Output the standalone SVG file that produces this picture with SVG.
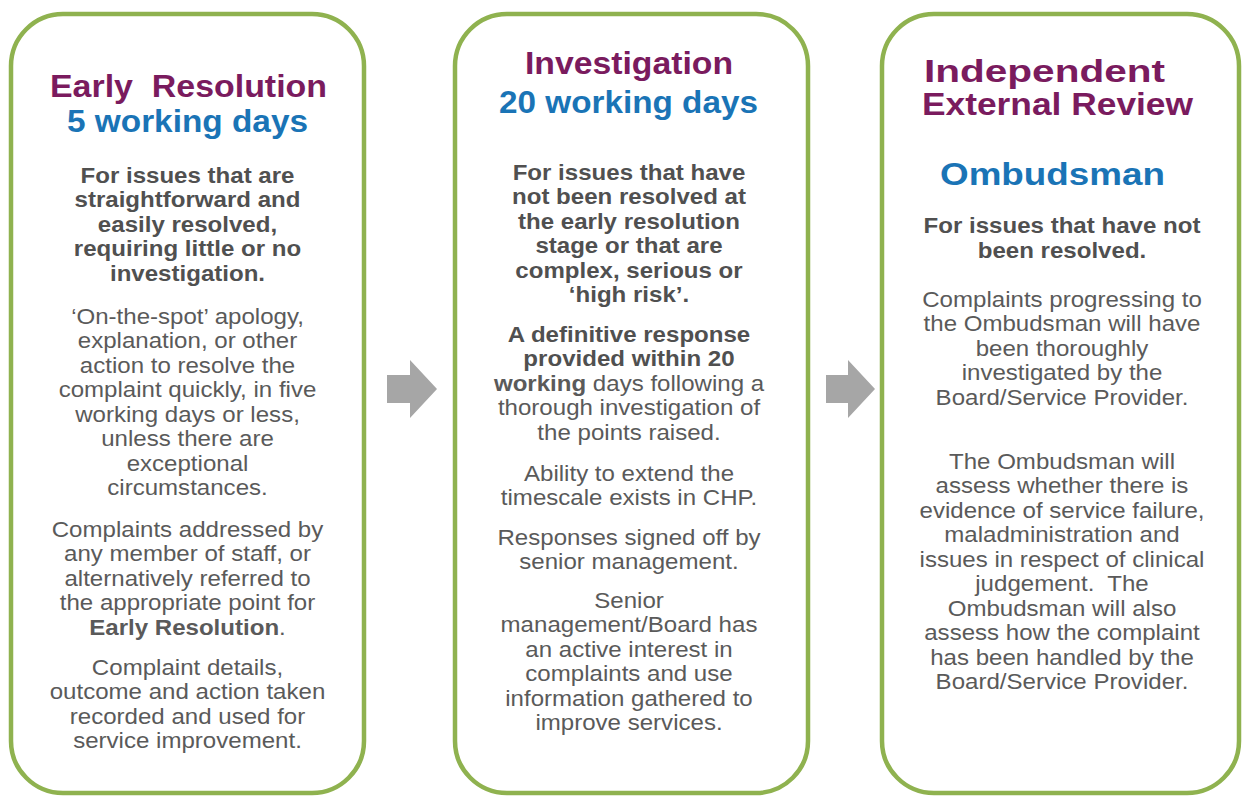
<svg xmlns="http://www.w3.org/2000/svg" width="1243" height="796" viewBox="0 0 1243 796">
<style>
.box{fill:#ffffff;stroke:#8fb24f;stroke-width:4.5}
.arrow{fill:#a6a6a6}
.t1{font-family:"Liberation Sans",Arial,sans-serif;font-weight:bold;font-size:31px;fill:#7a1b5e;text-anchor:middle}
.t2{font-family:"Liberation Sans",Arial,sans-serif;font-weight:bold;font-size:31px;fill:#1a74b6;text-anchor:middle}
.b{font-family:"Liberation Sans",Arial,sans-serif;font-weight:bold;font-size:21.5px;fill:#505050;text-anchor:middle}
.r{font-family:"Liberation Sans",Arial,sans-serif;font-size:21.5px;fill:#5a5a5a;text-anchor:middle}
.bb{font-weight:bold}
</style>
<rect width="1243" height="796" fill="#ffffff"/>
<g id="connectors">
<polygon class="arrow" points="387,375 410,375 410,360 437,389 410,418 410,403 387,403"/>
<polygon class="arrow" points="826,375 848,375 848,360 875,389 848,418 848,403 826,403"/>
</g>
<g id="early-resolution">
<rect class="box" x="11" y="14" width="353" height="779" rx="52" ry="52"/>
<text class="t1" x="188.5" y="97" textLength="277" lengthAdjust="spacingAndGlyphs">Early&#160; Resolution</text>
<text class="t2" x="187.5" y="132" textLength="241" lengthAdjust="spacingAndGlyphs">5 working days</text>
<g transform="translate(187.5 0) scale(1.12 1)">
<text class="b" x="0" y="183">For issues that are</text>
<text class="b" x="0" y="207.5">straightforward and</text>
<text class="b" x="0" y="232">easily resolved,</text>
<text class="b" x="0" y="256.5">requiring little or no</text>
<text class="b" x="0" y="281">investigation.</text>
<text class="r" x="0" y="324">‘On-the-spot’ apology,</text>
<text class="r" x="0" y="348.5">explanation, or other</text>
<text class="r" x="0" y="373">action to resolve the</text>
<text class="r" x="0" y="397.5">complaint quickly, in five</text>
<text class="r" x="0" y="422">working days or less,</text>
<text class="r" x="0" y="446.5">unless there are</text>
<text class="r" x="0" y="471">exceptional</text>
<text class="r" x="0" y="495.5">circumstances.</text>
<text class="r" x="0" y="537">Complaints addressed by</text>
<text class="r" x="0" y="561.5">any member of staff, or</text>
<text class="r" x="0" y="586">alternatively referred to</text>
<text class="r" x="0" y="610.5">the appropriate point for</text>
<text class="r" x="0" y="635"><tspan class="bb">Early Resolution</tspan>.</text>
<text class="r" x="0" y="675">Complaint details,</text>
<text class="r" x="0" y="699.5">outcome and action taken</text>
<text class="r" x="0" y="724">recorded and used for</text>
<text class="r" x="0" y="748.5">service improvement.</text>
</g>
</g>
<g id="investigation">
<rect class="box" x="455" y="14" width="353" height="779" rx="52" ry="52"/>
<text class="t1" x="629" y="74" textLength="208" lengthAdjust="spacingAndGlyphs">Investigation</text>
<text class="t2" x="628.5" y="113" textLength="259" lengthAdjust="spacingAndGlyphs">20 working days</text>
<g transform="translate(629 0) scale(1.12 1)">
<text class="b" x="0" y="180">For issues that have</text>
<text class="b" x="0" y="204.5">not been resolved at</text>
<text class="b" x="0" y="229">the early resolution</text>
<text class="b" x="0" y="253.5">stage or that are</text>
<text class="b" x="0" y="278">complex, serious or</text>
<text class="b" x="0" y="302.5">‘high risk’.</text>
<text class="b" x="0" y="342">A definitive response</text>
<text class="b" x="0" y="366.5">provided within 20</text>
<text class="r" x="0" y="391"><tspan class="bb">working</tspan> days following a</text>
<text class="r" x="0" y="415.5">thorough investigation of</text>
<text class="r" x="0" y="440">the points raised.</text>
<text class="r" x="0" y="481">Ability to extend the</text>
<text class="r" x="0" y="505.5">timescale exists in CHP.</text>
<text class="r" x="0" y="545">Responses signed off by</text>
<text class="r" x="0" y="569.5">senior management.</text>
<text class="r" x="0" y="608">Senior</text>
<text class="r" x="0" y="632.5">management/Board has</text>
<text class="r" x="0" y="657">an active interest in</text>
<text class="r" x="0" y="681.5">complaints and use</text>
<text class="r" x="0" y="706">information gathered to</text>
<text class="r" x="0" y="730.5">improve services.</text>
</g>
</g>
<g id="independent-external-review">
<rect class="box" x="882" y="14" width="357" height="779" rx="52" ry="52"/>
<text class="t1" x="1044.5" y="82" textLength="241" lengthAdjust="spacingAndGlyphs">Independent</text>
<text class="t1" x="1057.5" y="115" textLength="271" lengthAdjust="spacingAndGlyphs">External Review</text>
<text class="t2" x="1052.5" y="185" textLength="225" lengthAdjust="spacingAndGlyphs">Ombudsman</text>
<g transform="translate(1062 0) scale(1.12 1)">
<text class="b" x="0" y="233">For issues that have not</text>
<text class="b" x="0" y="258">been resolved.</text>
<text class="r" x="0" y="307">Complaints progressing to</text>
<text class="r" x="0" y="331.5">the Ombudsman will have</text>
<text class="r" x="0" y="356">been thoroughly</text>
<text class="r" x="0" y="380.5">investigated by the</text>
<text class="r" x="0" y="405">Board/Service Provider.</text>
<text class="r" x="0" y="469">The Ombudsman will</text>
<text class="r" x="0" y="493.5">assess whether there is</text>
<text class="r" x="0" y="518">evidence of service failure,</text>
<text class="r" x="0" y="542.5">maladministration and</text>
<text class="r" x="0" y="567">issues in respect of clinical</text>
<text class="r" x="0" y="591.5">judgement.&#160; The</text>
<text class="r" x="0" y="616">Ombudsman will also</text>
<text class="r" x="0" y="640.5">assess how the complaint</text>
<text class="r" x="0" y="665">has been handled by the</text>
<text class="r" x="0" y="689.5">Board/Service Provider.</text>
</g>
</g>
</svg>
